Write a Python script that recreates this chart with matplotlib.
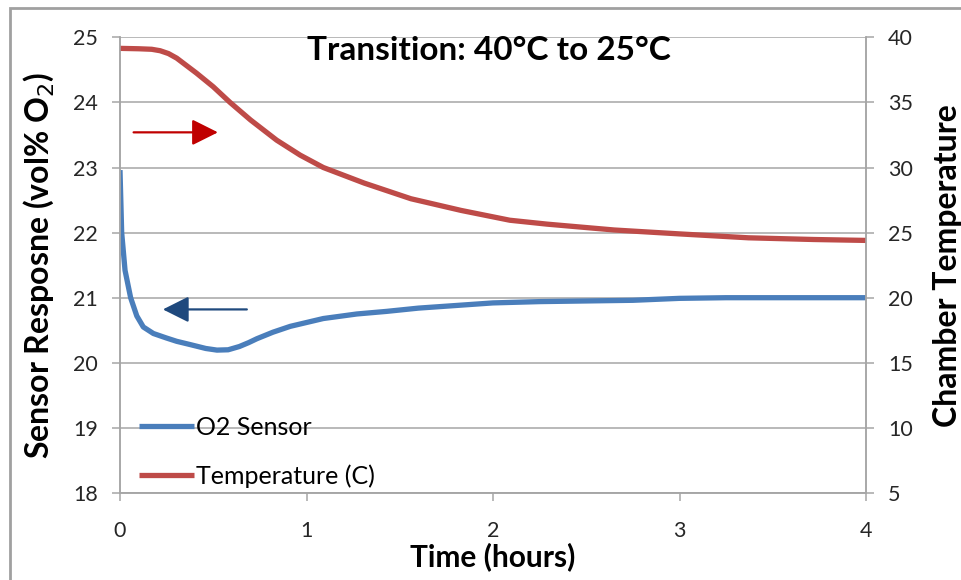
import matplotlib
matplotlib.use("Agg")
import matplotlib.pyplot as plt
from matplotlib.patches import Rectangle

plt.rcParams["font.family"] = ["Lato", "DejaVu Sans"]

# O2 sensor response (vol% O2), left axis
O2_T = [0.00, 0.009, 0.027, 0.057, 0.09, 0.125, 0.179, 0.25, 0.304, 0.376, 0.46, 0.52,
        0.58, 0.64, 0.69, 0.734, 0.82, 0.913, 1.09, 1.27, 1.43, 1.6, 1.8, 2.0, 2.25, 2.5,
        2.75, 3.0, 3.25, 3.5, 3.75, 4.0]
O2_V = [22.96, 22.0, 21.42, 21.0, 20.72, 20.55, 20.45, 20.38, 20.33, 20.28, 20.22, 20.195,
        20.2, 20.25, 20.31, 20.37, 20.47, 20.56, 20.68, 20.75, 20.79, 20.84, 20.88, 20.92,
        20.94, 20.95, 20.96, 20.99, 21.0, 21.0, 21.0, 21.0]

# chamber temperature (C), right axis
TEMP_T = [0.0, 0.1, 0.17, 0.215, 0.26, 0.304, 0.41, 0.50, 0.59, 0.70, 0.84, 0.966, 1.09,
          1.31, 1.56, 1.83, 2.09, 2.29, 2.65, 3.0, 3.37, 3.72, 4.0]
TEMP_V = [39.15, 39.12, 39.08, 38.97, 38.75, 38.4, 37.25, 36.2, 35.0, 33.65, 32.1, 30.95, 30.0,
          28.8, 27.6, 26.7, 25.95, 25.65, 25.2, 24.9, 24.6, 24.47, 24.4]

X_TICKS = [0, 1, 2, 3, 4]
LEFT_TICKS = [18, 19, 20, 21, 22, 23, 24, 25]
RIGHT_TICKS = [5, 10, 15, 20, 25, 30, 35, 40]

BLUE = "#4A7EBB"
RED = "#BE4B48"
GRID = "#A6A6A6"

fig = plt.figure(figsize=(9.61, 5.80), dpi=100)
ax = fig.add_axes([120/961, 1-493/580, 746/961, (493-37.3)/580])
ax2 = ax.twinx()

l1, = ax.plot(O2_T, O2_V, color=BLUE, lw=3.8, label="O2 Sensor",
              solid_capstyle="butt", solid_joinstyle="round")
l2, = ax2.plot(TEMP_T, TEMP_V, color=RED, lw=3.8, label="Temperature (C)",
               solid_capstyle="butt", solid_joinstyle="round")

ax.set_xlim(0, 4)
ax.set_ylim(18, 25)
ax2.set_ylim(5, 40)
ax.set_xticks(X_TICKS)
ax.set_yticks(LEFT_TICKS)
ax2.set_yticks(RIGHT_TICKS)

ax.grid(True, axis="y", color=GRID, lw=1.1)
ax.set_axisbelow(True)
for a in (ax, ax2):
    for s in a.spines.values():
        s.set_color(GRID)
        s.set_linewidth(1.1)
    a.spines["top"].set_visible(False)
    a.tick_params(colors=GRID, labelcolor="#262626", labelsize=15.5, length=6, width=1.1, pad=10)
ax.tick_params(axis="x", pad=14)

ax.set_xlabel("Time (hours)", fontsize=21.5, fontweight="bold", labelpad=1)
ax.set_ylabel("Sensor Resposne (vol% O$_2$)", fontsize=23, fontweight="bold", labelpad=12)
ax2.set_ylabel("Chamber Temperature", fontsize=23, fontweight="bold", labelpad=14)

ax.text(1.98, 24.8, "Transition: 40\u00b0C to 25\u00b0C", ha="center", va="center",
        fontsize=24, fontweight="bold")

# direction arrows
ax.annotate("", xy=(0.54, 23.54), xytext=(0.058, 23.54),
            arrowprops=dict(arrowstyle="-|>,head_length=1.6,head_width=0.8", color="#C00000", lw=1.6))
ax.annotate("", xy=(0.215, 20.82), xytext=(0.695, 20.82),
            arrowprops=dict(arrowstyle="-|>,head_length=1.6,head_width=0.8", color="#1F497D", lw=1.6))

ax.legend(handles=[l1, l2], loc="lower left", bbox_to_anchor=(0.012, -0.01), frameon=False,
          fontsize=18, handlelength=2.2, handletextpad=0.1, labelspacing=1.0, borderaxespad=0)

fig.add_artist(Rectangle((10/961, -0.05), 1.1, 1-8/580+0.05, transform=fig.transFigure,
                         fill=False, edgecolor="#A0A0A0", lw=2))

fig.savefig("out.png", dpi=100)
